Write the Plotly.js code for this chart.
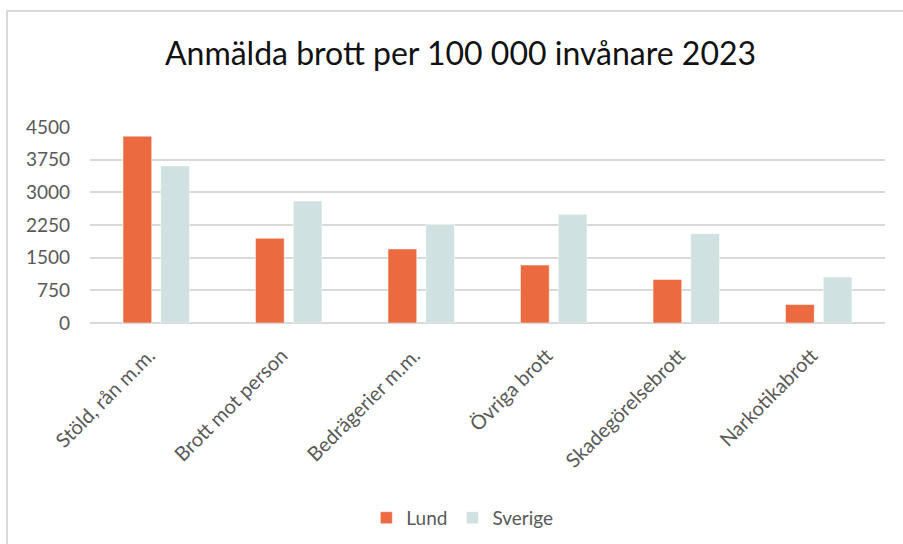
<!DOCTYPE html>
<html>
<head>
<meta charset="utf-8">
<script src="https://cdn.plot.ly/plotly-3.0.1.min.js"></script>
<style>
  html, body { margin: 0; padding: 0; background: #fff; }
  #wrap { position: relative; width: 903px; height: 544px; overflow: hidden; }
  #chart { position: absolute; left: 0; top: 0; width: 903px; height: 544px; }
  #frame { position: absolute; left: 6px; top: 10px; width: 1000px; height: 1000px;
           border-top: 2px solid #d9d9d9; border-left: 2px solid #d9d9d9; pointer-events: none; }
</style>
</head>
<body>
<div id="wrap">
  <div id="chart"></div>
  <div id="frame"></div>
</div>
<script>
const categories = ["Stöld, rån m.m.", "Brott mot person", "Bedrägerier m.m.", "Övriga brott", "Skadegörelsebrott", "Narkotikabrott"];
const lund = [4290, 1945, 1700, 1330, 1000, 425];
const sverige = [3605, 2800, 2260, 2495, 2050, 1055];
const yTicks = [0, 750, 1500, 2250, 3000, 3750, 4500];

const font = "Lato, 'Open Sans', sans-serif";

const traces = [
  { type: "bar", name: "Lund", x: categories, y: lund,
    marker: { color: "#EB6A3F", line: { color: "#ffffff", width: 0.5 } }, hoverinfo: "skip" },
  { type: "bar", name: "Sverige", x: categories, y: sverige,
    marker: { color: "#CFE1E0", line: { color: "#ffffff", width: 0.5 } }, hoverinfo: "skip" }
];

const layout = {
  width: 903, height: 544,
  margin: { l: 90, r: 18, t: 127, b: 221 },
  paper_bgcolor: "#ffffff", plot_bgcolor: "#ffffff",
  font: { family: font, color: "#595959" },
  title: { text: "Anmälda brott per 100 000 invånare 2023",
           font: { family: font, size: 32, color: "#111111" },
           x: 0.51, xanchor: "center", y: 0.902, yanchor: "middle" },
  barmode: "group", bargap: 0.43, bargroupgap: 0.24,
  xaxis: { type: "category", tickangle: -45, tickfont: { size: 20, color: "#595959" },
           showgrid: false, showline: false, ticks: "", zeroline: false, automargin: false,
           ticklabelstandoff: 16, ticklabelshift: -7 },
  yaxis: { range: [0, 4500], tickvals: yTicks, ticktext: yTicks.map(String),
           tickfont: { size: 19, color: "#595959" }, showgrid: true, gridcolor: "#d9d9d9", gridwidth: 2,
           zeroline: true, zerolinecolor: "#d9d9d9", zerolinewidth: 2, showline: false, ticks: "",
           ticklabelstandoff: 19, automargin: false, fixedrange: true },
  legend: { orientation: "h", xref: "container", yref: "container", x: 0.512, xanchor: "center",
            y: 0.048, yanchor: "middle",
            font: { size: 19, color: "#595959" }, itemwidth: 30, traceorder: "normal" },
  showlegend: true
};

Plotly.newPlot("chart", traces, layout, { staticPlot: true, displayModeBar: false });
</script>
</body>
</html>
